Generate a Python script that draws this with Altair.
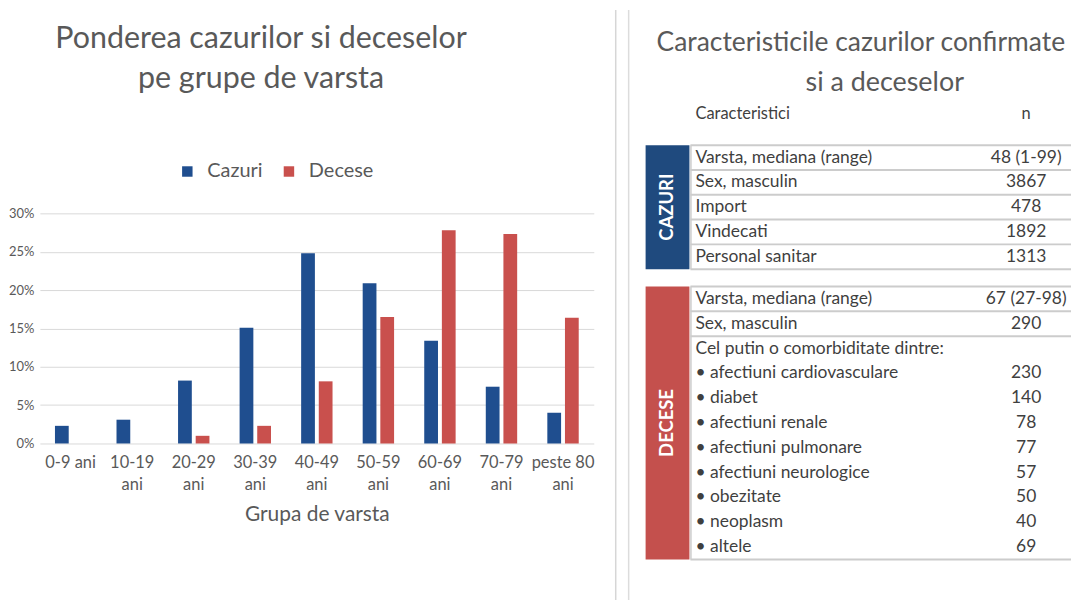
import altair as alt
import pandas as pd

# ---------------- data ----------------
age_groups = ["0-9 ani", "10-19 ani", "20-29 ani", "30-39 ani", "40-49 ani",
              "50-59 ani", "60-69 ani", "70-79 ani", "peste 80 ani"]
cazuri_pct = [2.3, 3.1, 8.2, 15.1, 24.8, 20.9, 13.4, 7.4, 4.0]
decese_pct = [0.0, 0.0, 1.0, 2.3, 8.1, 16.5, 27.8, 27.3, 16.4]
series_names = ["Cazuri", "Decese"]
y_ticks = [0, 5, 10, 15, 20, 25, 30]

left_title = ["Ponderea cazurilor si deceselor", "pe grupe de varsta"]
x_title = "Grupa de varsta"

right_title = ["Caracteristicile cazurilor confirmate", "si a deceselor"]
header = ["Caracteristici", "n"]
group_names = ["CAZURI", "DECESE"]
cazuri_labels = ["Varsta, mediana (range)", "Sex, masculin", "Import",
                 "Vindecati", "Personal sanitar"]
cazuri_values = ["48 (1-99)", "3867", "478", "1892", "1313"]
decese_labels = ["Varsta, mediana (range)", "Sex, masculin",
                 "Cel putin o comorbiditate dintre:",
                 "\u2022 afectiuni cardiovasculare", "\u2022 diabet",
                 "\u2022 afectiuni renale", "\u2022 afectiuni pulmonare",
                 "\u2022 afectiuni neurologice", "\u2022 obezitate",
                 "\u2022 neoplasm", "\u2022 altele"]
decese_values = ["67 (27-98)", "290", "", "230", "140", "78", "77", "57",
                 "50", "40", "69"]
decese_lines_after = [0, 1, 10]   # rows followed by a separator line

# ---------------- styles ----------------
FONT = "Lato"
GRAY = "#595959"
TXT = "#3f3f3f"
BLUE = "#1F4E8F"
RED = "#C9504D"
NAVY = "#1F4A7E"
BLOCK_RED = "#C4504D"
LINE = "#cccccc"

# ---------------- left: bar chart ----------------
bars_df = pd.DataFrame({
    "grupa": age_groups * 2,
    "serie": [series_names[0]] * len(age_groups) + [series_names[1]] * len(age_groups),
    "pondere": [v / 100 for v in cazuri_pct + decese_pct],
})

LW, LH = 556, 435

bars = alt.Chart(bars_df).mark_bar().encode(
    x=alt.X("grupa:N", sort=age_groups,
            scale=alt.Scale(paddingInner=0.49, paddingOuter=0.245),
            axis=alt.Axis(title=x_title, labelAngle=0, domain=False, ticks=False,
                          labelExpr="length(datum.label) > 7 ? [substring(datum.label, 0, length(datum.label) - 4), 'ani'] : datum.label",
                          labelPadding=11, labelFontSize=16.5, labelLineHeight=22,
                          labelColor=GRAY, labelFont=FONT,
                          titleFont=FONT, titleFontSize=21, titleFontWeight="normal",
                          titleColor=GRAY, titlePadding=11)),
    xOffset=alt.XOffset("serie:N", sort=series_names,
                        scale=alt.Scale(paddingInner=0.22)),
    y=alt.Y("pondere:Q",
            scale=alt.Scale(domain=[0, 0.30], range=[LH, 204], nice=False),
            axis=alt.Axis(values=[t / 100 for t in y_ticks], format=".0%", title=None,
                          domain=False, ticks=False, gridColor="#d9d9d9",
                          labelFontSize=13, labelColor=GRAY, labelFont=FONT,
                          labelPadding=6)),
    color=alt.Color("serie:N", sort=series_names,
                    scale=alt.Scale(domain=series_names, range=[BLUE, RED]),
                    legend=alt.Legend(title=None, orient="none", legendX=138, legendY=152,
                                      direction="horizontal", symbolType="square",
                                      symbolSize=110, symbolStrokeWidth=0,
                                      labelFontSize=20, labelColor=GRAY, labelFont=FONT,
                                      columnPadding=16, labelOffset=10)),
)

ltitle = alt.Chart(pd.DataFrame({"t": ["\n".join(left_title)]})).mark_text(
    lineBreak="\n", fontSize=30.5, lineHeight=40, color=GRAY, align="center",
    baseline="top", font=FONT
).encode(text="t:N", x=alt.value(222), y=alt.value(14))

left = alt.layer(bars, ltitle).properties(width=LW, height=LH)

# ---------------- right: table ----------------
RW, RH = 458, 592
DEC_START = 5.7

rows = []
for i, (lab, val) in enumerate(zip(cazuri_labels, cazuri_values)):
    rows.append({"slot": i, "label": lab, "value": val})
for j, (lab, val) in enumerate(zip(decese_labels, decese_values)):
    rows.append({"slot": DEC_START + j, "label": lab, "value": val})
rows_df = pd.DataFrame(rows)
head_df = pd.DataFrame({"slot": [-1.77], "label": [header[0]], "value": [header[1]]})

blocks_df = pd.DataFrame({
    "grup": group_names,
    "s0": [-0.5, DEC_START - 0.5],
    "s1": [len(cazuri_labels) - 0.5, DEC_START + len(decese_labels) - 0.5],
})
blocks_df["mid"] = (blocks_df["s0"] + blocks_df["s1"]) / 2

line_slots = [-0.5] + [i + 0.5 for i in range(len(cazuri_labels))]
line_slots += [DEC_START - 0.5] + [DEC_START + j + 0.5 for j in decese_lines_after]
lines_df = pd.DataFrame({"b": line_slots})

yscale = alt.Scale(domain=[0, 1], range=[148, 172.9], nice=False, zero=False)

blocks = alt.Chart(blocks_df).mark_rect().encode(
    x=alt.value(31), x2=alt.value(75),
    y=alt.Y("s0:Q", scale=yscale, axis=None), y2="s1:Q",
    color=alt.Color("grup:N", scale=alt.Scale(domain=group_names, range=[NAVY, BLOCK_RED]),
                    legend=None),
)
block_text = alt.Chart(blocks_df).mark_text(
    angle=270, color="white", fontWeight="bold", fontSize=18.5, font=FONT,
    align="center", baseline="middle"
).encode(x=alt.value(53), y=alt.Y("mid:Q", scale=yscale, axis=None), text="grup:N")

hlines = alt.Chart(lines_df).mark_rule(color=LINE, strokeWidth=2).encode(
    y=alt.Y("b:Q", scale=yscale, axis=None), x=alt.value(76), x2=alt.value(RW))
vlines = alt.Chart(blocks_df).mark_rule(color=LINE, strokeWidth=1.5).encode(
    x=alt.value(76.5), y=alt.Y("s0:Q", scale=yscale, axis=None), y2="s1:Q")

labels = alt.Chart(rows_df).mark_text(
    align="left", baseline="middle", fontSize=17.5, color=TXT, font=FONT
).encode(x=alt.value(81), y=alt.Y("slot:Q", scale=yscale, axis=None), text="label:N")
values = alt.Chart(rows_df).mark_text(
    align="center", baseline="middle", fontSize=17.5, color=TXT, font=FONT
).encode(x=alt.value(413), y=alt.Y("slot:Q", scale=yscale, axis=None), text="value:N")
head_l = alt.Chart(head_df).mark_text(
    align="left", baseline="middle", fontSize=16.5, color=TXT, font=FONT
).encode(x=alt.value(81), y=alt.Y("slot:Q", scale=yscale, axis=None), text="label:N")
head_v = alt.Chart(head_df).mark_text(
    align="center", baseline="middle", fontSize=16.5, color=TXT, font=FONT
).encode(x=alt.value(413), y=alt.Y("slot:Q", scale=yscale, axis=None), text="value:N")

rtitle1 = alt.Chart(pd.DataFrame({"t": [right_title[0]]})).mark_text(
    fontSize=26.5, color=GRAY, align="left", baseline="middle", font=FONT
).encode(text="t:N", x=alt.value(42), y=alt.value(33))
rtitle2 = alt.Chart(pd.DataFrame({"t": [right_title[1]]})).mark_text(
    fontSize=27, color=GRAY, align="center", baseline="middle", font=FONT
).encode(text="t:N", x=alt.value(271), y=alt.value(73))

div1 = alt.Chart(pd.DataFrame({"d": [0]})).mark_rule(color="#d6d6d6", strokeWidth=1.5).encode(
    x=alt.value(1), y=alt.value(0), y2=alt.value(RH))
div2 = alt.Chart(pd.DataFrame({"d": [0]})).mark_rule(color="#dcdcdc", strokeWidth=1.5).encode(
    x=alt.value(14), y=alt.value(0), y2=alt.value(RH))

right = alt.layer(div1, div2, blocks, block_text, hlines, vlines, labels, values,
                  head_l, head_v, rtitle1, rtitle2).properties(width=RW, height=RH)

chart = alt.hconcat(left, right, spacing=20).resolve_scale(
    color="independent"
).properties(
    padding={"left": 0, "top": 0, "right": 0, "bottom": 0}, background="white"
).configure(font=FONT).configure_view(stroke=None)

chart.save("out.html", embed_options={"renderer": "svg", "actions": False})
